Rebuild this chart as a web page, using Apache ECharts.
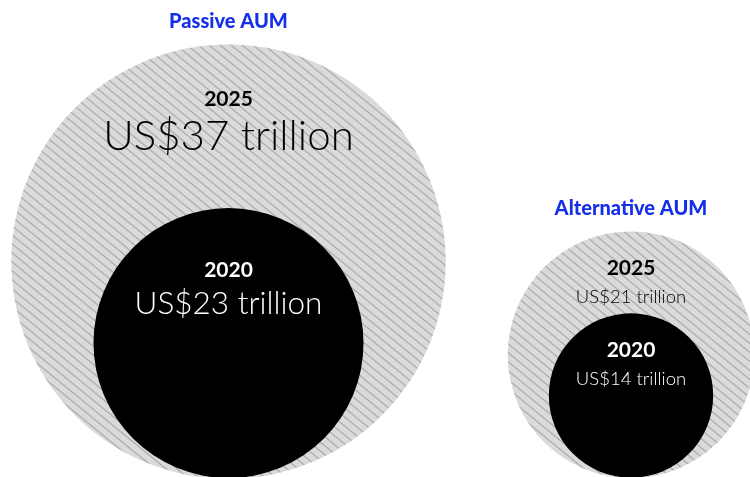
<!DOCTYPE html>
<html>
<head>
<meta charset="utf-8">
<script src="https://cdn.jsdelivr.net/npm/echarts@6/dist/echarts.min.js"></script>
<style>
  html, body { margin: 0; padding: 0; background: #ffffff; }
  #chart { width: 750px; height: 477px; }
</style>
</head>
<body>
<div id="chart"></div>
<script>
// Assets under management, US$ trillion
const groups = ['Passive AUM', 'Alternative AUM'];
const years = ['2020', '2025'];
const aum2020 = [23, 14];
const aum2025 = [37, 21];

// Layout: circle radius is proportional to the value (px per trillion)
const PX_PER_T = 5.87;
const BASELINE_PX = 481;                 // circles sit on a shared baseline
const groupCenterPx = [228.5, 631];
// vertical offsets of the labels below each circle's top edge
const labelOffsets = {
  '2025': [{ year: 55, value: 92, size: 42 }, { year: 37, value: 66, size: 18.5 }],
  '2020': [{ year: 62, value: 96, size: 31.5 }, { year: 37, value: 66, size: 18.5 }]
};
const TITLE_GAP = 23;
const FONT = 'Lato, "Noto Sans", sans-serif';

// diagonal hatch used for the 2025 circles
function hatchPattern() {
  const w = 11, h = 9;
  const c = document.createElement('canvas');
  c.width = w; c.height = h;
  const ctx = c.getContext('2d');
  ctx.fillStyle = '#dadada';
  ctx.fillRect(0, 0, w, h);
  ctx.strokeStyle = '#aaaaaa';
  ctx.lineWidth = 1.2;
  for (let k = -1; k <= 1; k++) {
    ctx.beginPath();
    ctx.moveTo(-1, -h / w + k * h);
    ctx.lineTo(w + 1, h + h / w + k * h);
    ctx.stroke();
  }
  return { image: c, repeat: 'repeat' };
}
const hatch = hatchPattern();

// data items: [centerX (axis units), value, groupIndex, yearIndex]
const items = [];
groups.forEach((g, i) => items.push([groupCenterPx[i] / PX_PER_T, aum2025[i], i, 1]));
groups.forEach((g, i) => items.push([groupCenterPx[i] / PX_PER_T, aum2020[i], i, 0]));

const chart = echarts.init(document.getElementById('chart'), null, { renderer: 'canvas' });

chart.setOption({
  animation: false,
  grid: { left: 0, top: 0, width: 750, height: BASELINE_PX },
  xAxis: { type: 'value', min: 0, max: 750 / PX_PER_T, show: false },
  yAxis: { type: 'value', min: 0, max: BASELINE_PX / PX_PER_T, show: false },
  series: [{
    type: 'custom',
    coordinateSystem: 'cartesian2d',
    data: items,
    clip: false,
    renderItem: function (params, api) {
      const cxU = api.value(0), v = api.value(1);
      const gi = api.value(2), yi = api.value(3);
      const year = years[yi];
      const center = api.coord([cxU, v]);
      const r = api.size([v, 0])[0];
      const top = center[1] - r;
      const is2025 = year === '2025';
      const off = labelOffsets[year][gi];
      const textColor = is2025 ? '#000000' : '#ffffff';
      const children = [{
        type: 'circle',
        shape: { cx: center[0], cy: center[1], r: r },
        style: { fill: is2025 ? hatch : '#000000' }
      }, {
        type: 'text',
        style: {
          x: center[0], y: top + off.year, text: year,
          fill: textColor, font: 'bold 21px ' + FONT,
          align: 'center', verticalAlign: 'middle'
        }
      }, {
        type: 'text',
        style: {
          x: center[0], y: top + off.value, text: 'US$' + v + ' trillion',
          fill: textColor, font: '300 ' + off.size + 'px ' + FONT,
          align: 'center', verticalAlign: 'middle'
        }
      }];
      if (is2025) {
        children.push({
          type: 'text',
          style: {
            x: center[0], y: top - TITLE_GAP, text: groups[gi],
            fill: '#1530e8', font: '900 20px ' + FONT,
            align: 'center', verticalAlign: 'middle'
          }
        });
      }
      return { type: 'group', children: children };
    }
  }]
});
</script>
</body>
</html>
